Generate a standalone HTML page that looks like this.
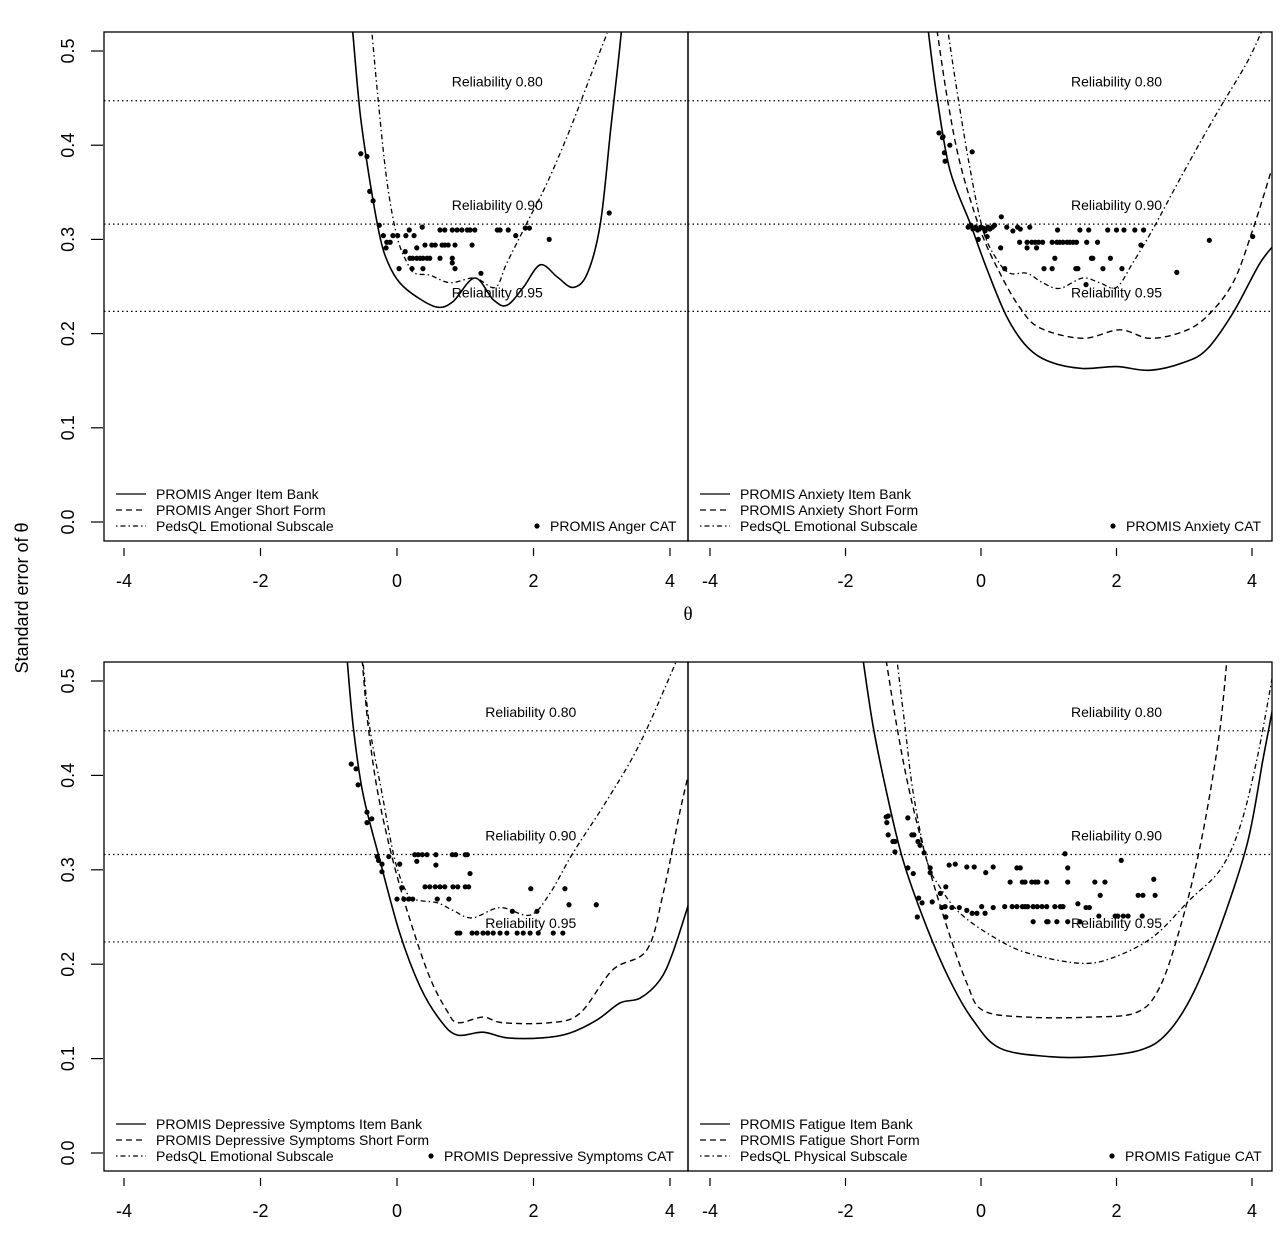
<!DOCTYPE html>
<html><head><meta charset="utf-8">
<style>
html,body{margin:0;padding:0;background:#fff;}
svg{display:block;font-family:"Liberation Sans",Arial,sans-serif;}
</style></head>
<body>
<svg id="chart" width="1280" height="1240" viewBox="0 0 1280 1240" xmlns="http://www.w3.org/2000/svg">
<text x="0" y="0" transform="translate(28,598) rotate(-90)" text-anchor="middle" font-size="18">Standard error of θ</text>
<text x="688" y="620" text-anchor="middle" font-size="19" font-family="Liberation Serif, serif">θ</text>
</svg>
<script>
// ---------- data ----------
const xTicks = [-4, -2, 0, 2, 4];
const yTicks = [0.0, 0.1, 0.2, 0.3, 0.4, 0.5];
const yTickLabels = ["0.0", "0.1", "0.2", "0.3", "0.4", "0.5"];
const reliabilities = [0.80, 0.90, 0.95];
const reliabilityLabels = ["Reliability 0.80", "Reliability 0.90", "Reliability 0.95"];

// Anger
const angerBankTheta = [-0.65,-0.54,-0.40,-0.25,-0.13,0.04,0.29,0.59,0.82,1.14,1.41,1.61,1.85,2.10,2.35,2.58,2.79,2.98,3.13,3.24,3.30];
const angerBankSe    = [0.522,0.434,0.363,0.303,0.275,0.254,0.239,0.228,0.234,0.259,0.236,0.230,0.249,0.273,0.260,0.249,0.264,0.317,0.416,0.487,0.53];
const angerShortTheta = [-0.37,-0.28,-0.15,0.0,0.15,0.26,0.48,0.78,1.14,1.44,1.61,1.90,2.20,2.53,2.87,3.08];
const angerShortSe    = [0.522,0.451,0.363,0.303,0.275,0.264,0.262,0.254,0.259,0.249,0.275,0.317,0.360,0.416,0.480,0.519];
const angerPedsTheta = [-0.37,-0.28,-0.15,0.0,0.15,0.26,0.48,0.78,1.14,1.44,1.61,1.90,2.20,2.53,2.87,3.08];
const angerPedsSe    = [0.522,0.451,0.363,0.303,0.275,0.264,0.262,0.254,0.259,0.249,0.275,0.317,0.360,0.416,0.480,0.519];
const angerCatTheta = [-0.53,-0.44,-0.40,-0.35,-0.26,0.63,0.70,0.81,0.88,0.95,1.03,1.07,1.14,1.47,1.51,1.63,1.88,1.94,-0.20,-0.06,0.01,0.13,0.25,1.74,0.18,0.37,-0.15,-0.10,0.41,0.51,0.56,0.66,0.70,0.75,0.85,1.10,-0.16,0.29,0.12,0.19,0.23,0.29,0.34,0.38,0.44,0.48,0.63,0.81,0.81,0.03,0.22,0.38,0.85,1.23,2.23,3.11];
const angerCatSe    = [0.391,0.388,0.351,0.341,0.315,0.310,0.310,0.310,0.310,0.310,0.310,0.310,0.310,0.310,0.310,0.310,0.312,0.312,0.304,0.304,0.304,0.304,0.304,0.304,0.310,0.313,0.297,0.297,0.294,0.294,0.294,0.294,0.294,0.294,0.294,0.294,0.291,0.291,0.287,0.280,0.280,0.280,0.280,0.280,0.280,0.280,0.280,0.280,0.275,0.269,0.269,0.269,0.269,0.264,0.300,0.328];

// Anxiety
const anxBankTheta = [-0.78,-0.65,-0.46,-0.16,0.09,0.38,0.68,1.02,1.50,2.00,2.49,2.98,3.33,3.72,4.12,4.40];
const anxBankSe    = [0.522,0.451,0.374,0.317,0.268,0.218,0.186,0.170,0.163,0.165,0.161,0.169,0.183,0.222,0.275,0.30];
const anxShortTheta = [-0.65,-0.50,-0.31,-0.01,0.28,0.57,0.87,1.50,2.05,2.49,2.98,3.33,3.72,4.01,4.29];
const anxShortSe    = [0.522,0.451,0.381,0.310,0.264,0.228,0.206,0.195,0.204,0.195,0.202,0.218,0.254,0.310,0.374];
const anxPedsTheta = [-0.49,-0.34,-0.16,0.03,0.24,0.43,0.68,0.91,1.16,1.50,1.75,2.00,2.24,2.53,2.98,3.48,3.92,4.15];
const anxPedsSe    = [0.522,0.451,0.374,0.310,0.278,0.264,0.264,0.254,0.248,0.259,0.254,0.249,0.275,0.310,0.370,0.434,0.487,0.522];
const anxCatTheta = [-0.62,-0.57,-0.56,-0.46,-0.54,-0.53,-0.13,-0.19,-0.15,-0.12,-0.08,-0.05,0.00,0.03,0.06,0.10,0.13,0.17,0.20,0.30,0.38,0.47,0.54,0.58,0.72,0.57,0.68,0.75,0.80,0.85,0.91,1.05,1.12,1.16,1.21,1.27,1.31,1.36,1.41,1.56,1.72,0.68,0.82,0.29,1.13,1.46,1.59,1.87,2.00,2.11,2.27,2.40,2.36,-0.04,0.09,1.09,1.63,1.65,1.91,0.35,0.93,1.05,1.40,1.43,1.80,2.08,1.55,2.89,3.37,4.01];
const anxCatSe    = [0.413,0.408,0.409,0.400,0.392,0.383,0.393,0.313,0.315,0.311,0.313,0.310,0.313,0.312,0.309,0.313,0.311,0.313,0.315,0.324,0.313,0.309,0.313,0.311,0.313,0.297,0.297,0.297,0.297,0.297,0.297,0.297,0.297,0.297,0.297,0.297,0.297,0.297,0.297,0.297,0.297,0.291,0.291,0.291,0.310,0.310,0.310,0.310,0.310,0.310,0.310,0.310,0.294,0.300,0.303,0.280,0.280,0.280,0.280,0.269,0.269,0.269,0.269,0.269,0.269,0.269,0.252,0.265,0.299,0.303];

// Depressive symptoms
const depBankTheta = [-0.73,-0.64,-0.50,-0.25,0.04,0.34,0.63,0.88,1.26,1.61,2.14,2.53,2.93,3.27,3.56,3.85,4.04,4.30];
const depBankSe    = [0.522,0.451,0.381,0.310,0.233,0.176,0.141,0.125,0.128,0.122,0.122,0.127,0.141,0.159,0.164,0.183,0.212,0.27];
const depShortTheta = [-0.51,-0.42,-0.28,-0.06,0.19,0.48,0.73,0.89,1.26,1.55,2.24,2.68,3.16,3.66,3.90,4.15,4.30];
const depShortSe    = [0.522,0.451,0.381,0.310,0.247,0.186,0.151,0.138,0.144,0.138,0.138,0.148,0.194,0.215,0.275,0.363,0.41];
const depPedsTheta = [-0.50,-0.40,-0.22,-0.03,0.15,0.29,0.59,0.82,1.10,1.51,1.95,2.24,2.58,3.08,3.56,4.10];
const depPedsSe    = [0.522,0.451,0.381,0.310,0.275,0.268,0.265,0.257,0.249,0.260,0.252,0.275,0.318,0.374,0.434,0.522];
const depCatTheta = [-0.67,-0.60,-0.57,-0.44,-0.44,-0.37,-0.29,-0.27,-0.22,-0.22,-0.12,0.04,0.07,0.00,0.10,0.17,0.23,0.26,0.31,0.37,0.44,0.57,0.81,0.86,1.00,1.03,0.29,0.57,1.07,0.41,0.48,0.56,0.63,0.70,0.82,0.89,1.00,1.05,0.59,0.76,0.88,0.92,1.10,1.17,1.26,1.33,1.41,1.51,1.61,1.76,1.85,1.95,2.07,2.29,2.43,1.69,2.05,1.96,2.46,2.52,2.92];
const depCatSe    = [0.412,0.407,0.390,0.361,0.350,0.354,0.314,0.310,0.306,0.298,0.314,0.306,0.281,0.269,0.269,0.269,0.269,0.316,0.316,0.316,0.316,0.316,0.316,0.316,0.316,0.316,0.309,0.305,0.296,0.282,0.282,0.282,0.282,0.282,0.282,0.282,0.282,0.282,0.269,0.269,0.233,0.233,0.233,0.233,0.233,0.233,0.233,0.233,0.233,0.233,0.233,0.233,0.233,0.233,0.233,0.256,0.256,0.280,0.280,0.263,0.263];

// Fatigue
const fatBankTheta = [-1.74,-1.59,-1.39,-1.15,-0.80,-0.46,-0.12,0.28,1.02,1.65,2.35,2.75,3.13,3.53,3.93,4.16,4.30];
const fatBankSe    = [0.522,0.451,0.381,0.310,0.239,0.183,0.141,0.111,0.102,0.102,0.109,0.127,0.169,0.239,0.328,0.416,0.469];
const fatShortTheta = [-1.40,-1.24,-1.05,-0.80,-0.50,-0.21,0.03,0.68,1.61,2.30,2.64,2.94,3.19,3.38,3.53,3.63];
const fatShortSe    = [0.522,0.451,0.381,0.310,0.239,0.180,0.151,0.144,0.144,0.149,0.176,0.239,0.310,0.381,0.451,0.522];
const fatPedsTheta = [-1.24,-1.12,-1.00,-0.80,-0.61,-0.31,0.18,0.68,1.46,1.95,2.54,3.08,3.53,3.82,4.07,4.30];
const fatPedsSe    = [0.522,0.451,0.381,0.310,0.282,0.254,0.229,0.212,0.201,0.207,0.229,0.268,0.300,0.345,0.416,0.504];
const fatCatTheta = [-1.40,-1.37,-1.39,-1.37,-1.30,-1.27,-1.27,-1.08,-1.02,-0.99,-0.93,-0.90,-0.84,-1.08,-1.00,-0.75,-0.75,-0.52,-0.60,-0.92,-0.87,-0.94,-0.72,-0.58,-0.53,-0.52,-0.43,-0.32,-0.21,-0.13,-0.06,0.01,0.06,0.18,-0.47,-0.38,-0.21,-0.10,0.07,0.18,0.43,0.61,0.65,0.75,0.80,0.84,0.97,1.28,1.68,1.83,0.53,0.58,1.28,1.24,2.07,1.76,2.32,2.39,2.57,2.55,0.35,0.46,0.53,0.61,0.65,0.69,0.77,0.83,0.90,0.97,1.09,1.17,1.21,1.43,1.55,1.60,1.74,1.98,2.02,2.10,2.17,2.38,0.77,0.97,0.99,1.12,1.28,1.46];
const fatCatSe    = [0.356,0.357,0.350,0.337,0.330,0.330,0.319,0.355,0.337,0.337,0.330,0.326,0.318,0.302,0.296,0.302,0.297,0.282,0.275,0.270,0.265,0.250,0.266,0.260,0.261,0.250,0.260,0.260,0.257,0.254,0.254,0.261,0.254,0.260,0.305,0.306,0.303,0.303,0.297,0.303,0.287,0.287,0.287,0.287,0.287,0.287,0.287,0.287,0.287,0.287,0.302,0.302,0.302,0.317,0.310,0.273,0.273,0.273,0.273,0.290,0.261,0.261,0.261,0.261,0.261,0.261,0.261,0.261,0.261,0.261,0.261,0.261,0.261,0.264,0.260,0.260,0.251,0.251,0.251,0.251,0.251,0.251,0.245,0.245,0.245,0.245,0.245,0.245];

// ---------- layout ----------
const NS = "http://www.w3.org/2000/svg";
const svg = document.getElementById("chart");
function mk(tag, attrs, parent) {
  const e = document.createElementNS(NS, tag);
  for (const k in attrs) e.setAttribute(k, attrs[k]);
  (parent || svg).appendChild(e);
  return e;
}
const panels = [
  {key:"anger", l:104, r:688, t:32, b:541, x0:397, xs:68.25, y0:522, ys:942, yAxis:true, labX:1.47,
   bank:[angerBankTheta,angerBankSe], short:[angerShortTheta,angerShortSe], peds:[angerPedsTheta,angerPedsSe], cat:[angerCatTheta,angerCatSe], drawShort:false,
   leg:["PROMIS Anger Item Bank","PROMIS Anger Short Form","PedsQL Emotional Subscale"], catLeg:"PROMIS Anger CAT", catDot:537},
  {key:"anxiety", l:688, r:1272, t:32, b:541, x0:981, xs:67.75, y0:522, ys:942, yAxis:false, labX:2.0,
   bank:[anxBankTheta,anxBankSe], short:[anxShortTheta,anxShortSe], peds:[anxPedsTheta,anxPedsSe], cat:[anxCatTheta,anxCatSe], drawShort:true,
   leg:["PROMIS Anxiety Item Bank","PROMIS Anxiety Short Form","PedsQL Emotional Subscale"], catLeg:"PROMIS Anxiety CAT", catDot:1113},
  {key:"depressive", l:104, r:688, t:662, b:1171, x0:397, xs:68.25, y0:1153, ys:944, yAxis:true, labX:1.96,
   bank:[depBankTheta,depBankSe], short:[depShortTheta,depShortSe], peds:[depPedsTheta,depPedsSe], cat:[depCatTheta,depCatSe], drawShort:true,
   leg:["PROMIS Depressive Symptoms Item Bank","PROMIS Depressive Symptoms Short Form","PedsQL Emotional Subscale"], catLeg:"PROMIS Depressive Symptoms CAT", catDot:431},
  {key:"fatigue", l:688, r:1272, t:662, b:1171, x0:981, xs:67.75, y0:1153, ys:944, yAxis:false, labX:2.0,
   bank:[fatBankTheta,fatBankSe], short:[fatShortTheta,fatShortSe], peds:[fatPedsTheta,fatPedsSe], cat:[fatCatTheta,fatCatSe], drawShort:true,
   leg:["PROMIS Fatigue Item Bank","PROMIS Fatigue Short Form","PedsQL Physical Subscale"], catLeg:"PROMIS Fatigue CAT", catDot:1112}
];

function pathFrom(p, xs, ys) {
  const pts = xs.map((t, i) => [p.x0 + t * p.xs, p.y0 - ys[i] * p.ys]);
  let d = "M" + pts[0][0].toFixed(1) + "," + pts[0][1].toFixed(1);
  for (let i = 0; i < pts.length - 1; i++) {
    const p0 = pts[Math.max(0, i - 1)], p1 = pts[i], p2 = pts[i + 1], p3 = pts[Math.min(pts.length - 1, i + 2)];
    const c1 = [p1[0] + (p2[0] - p0[0]) / 6, p1[1] + (p2[1] - p0[1]) / 6];
    const c2 = [p2[0] - (p3[0] - p1[0]) / 6, p2[1] - (p3[1] - p1[1]) / 6];
    d += "C" + c1.map(v=>v.toFixed(1)).join(",") + " " + c2.map(v=>v.toFixed(1)).join(",") + " " + p2[0].toFixed(1) + "," + p2[1].toFixed(1);
  }
  return d;
}

const defs = mk("defs", {});
panels.forEach((p, pi) => {
  const cp = mk("clipPath", {id: "clip" + pi}, defs);
  mk("rect", {x: p.l, y: p.t, width: p.r - p.l, height: p.b - p.t}, cp);

  const g = mk("g", {});
  
  

  const frame = mk("rect", {x: p.l, y: p.t, width: p.r - p.l, height: p.b - p.t, fill: "none", stroke: "#000", "stroke-width": 1.3}, g);
  
  

  xTicks.forEach(v => {
    const x = p.x0 + v * p.xs;
    const tk = mk("line", {x1: x, x2: x, y1: p.b + 7, y2: p.b + 15, stroke: "#000", "stroke-width": 1.2}, g);
    
    
    const tl = mk("text", {x: x, y: p.b + 46, "text-anchor": "middle", "font-size": 18}, g);
    tl.textContent = String(v);
    
    
  });
  if (p.yAxis) {
    yTicks.forEach((v, i) => {
      const y = p.y0 - v * p.ys;
      const tk = mk("line", {x1: 91, x2: 103, y1: y, y2: y, stroke: "#000", "stroke-width": 1.2}, g);
      
      
      const tl = mk("text", {x: 0, y: 0, transform: "translate(74," + y + ") rotate(-90)", "text-anchor": "middle", "font-size": 18}, g);
      tl.textContent = yTickLabels[i];
      
      
    });
  }
  reliabilities.forEach((r, i) => {
    const se = Math.sqrt(1 - r);
    const y = p.y0 - se * p.ys;
    const ln = mk("line", {x1: p.l, x2: p.r, y1: y, y2: y, stroke: "#000", "stroke-width": 1.2, "stroke-dasharray": "1.5,3"}, g);
    
    
    const tl = mk("text", {x: p.x0 + p.labX * p.xs, y: y - 14, "text-anchor": "middle", "font-size": 14}, g);
    tl.textContent = reliabilityLabels[i];
    
    
  });

  const cg = mk("g", {"clip-path": "url(#clip" + pi + ")"}, g);
  const s1 = mk("path", {d: pathFrom(p, p.bank[0], p.bank[1]), fill: "none", stroke: "#000", "stroke-width": 1.6}, cg);
  
  
  if (p.drawShort) {
    const s2 = mk("path", {d: pathFrom(p, p.short[0], p.short[1]), fill: "none", stroke: "#000", "stroke-width": 1.4, "stroke-dasharray": "6,4"}, cg);
    
    
  }
  const s3 = mk("path", {d: pathFrom(p, p.peds[0], p.peds[1]), fill: "none", stroke: "#000", "stroke-width": 1.3, "stroke-dasharray": "1.5,3,5,3"}, cg);
  
  

  p.cat[0].forEach((t, i) => {
    const c = mk("circle", {cx: p.x0 + t * p.xs, cy: p.y0 - p.cat[1][i] * p.ys, r: 2.6, fill: "#000"}, cg);
    
    
  });

  const lg = mk("g", {}, g);
  
  
  const dashes = ["", "6,4", "1.5,3,5,3"];
  p.leg.forEach((txt, i) => {
    const y = p.b - 47 + i * 16;
    const ln = mk("line", {x1: p.l + 12, x2: p.l + 42, y1: y, y2: y, stroke: "#000", "stroke-width": 1.3, "stroke-dasharray": dashes[i]}, lg);
    
    
    const tl = mk("text", {x: p.l + 52, y: y + 5, "font-size": 14}, lg);
    tl.textContent = txt;
    
    
  });
  const yc = p.b - 15;
  const dot = mk("circle", {cx: p.catDot, cy: yc, r: 2.6, fill: "#000"}, lg);
  
  
  const ct = mk("text", {x: p.catDot + 13, y: yc + 5, "font-size": 14}, lg);
  ct.textContent = p.catLeg;
  
  
});
</script>
</body></html>
